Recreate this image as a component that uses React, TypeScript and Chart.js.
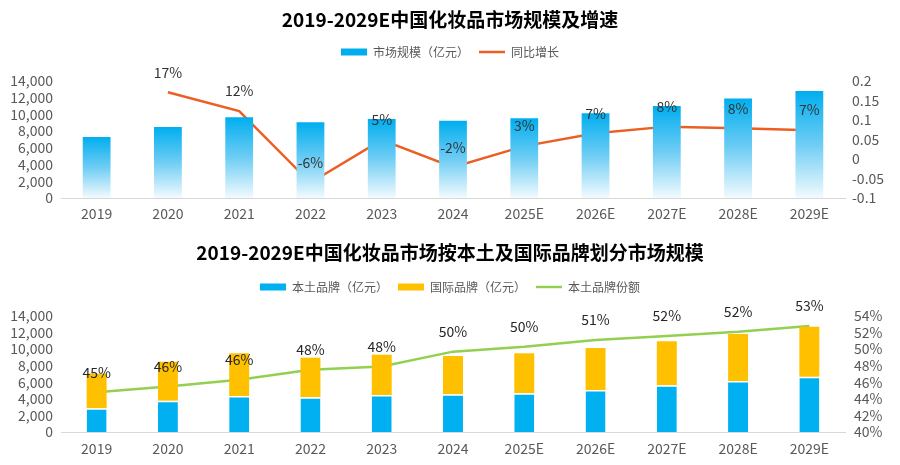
import React, { useEffect, useRef } from 'react';
import { Chart, registerables } from 'chart.js';

Chart.register(...registerables);

// ---------- data ----------
const categories = ['2019', '2020', '2021', '2022', '2023', '2024', '2025E', '2026E', '2027E', '2028E', '2029E'];

// chart 1
const marketSize = [7300, 8500, 9650, 9050, 9450, 9250, 9550, 10150, 11000, 11900, 12800];
const growthRate = [null, 0.171, 0.123, -0.061, 0.049, -0.021, 0.033, 0.066, 0.083, 0.079, 0.074];
const growthLabels = ['', '17%', '12%', '-6%', '5%', '-2%', '3%', '7%', '8%', '8%', '7%'];
const sizeTicks = [0, 2000, 4000, 6000, 8000, 10000, 12000, 14000];
const rateTicks = [-0.1, -0.05, 0, 0.05, 0.1, 0.15, 0.2];

// chart 2
const domesticBrands = [2860, 3780, 4350, 4190, 4470, 4550, 4670, 5070, 5640, 6150, 6680];
const internationalBrands = [4190, 4700, 5150, 4780, 4860, 4620, 4830, 5070, 5300, 5680, 6030];
const domesticShare = [44.8, 45.5, 46.3, 47.5, 47.9, 49.7, 50.3, 51.1, 51.6, 52.1, 52.8];
const shareLabels = ['45%', '46%', '46%', '48%', '48%', '50%', '50%', '51%', '52%', '52%', '53%'];
const shareTicks = [40, 42, 44, 46, 48, 50, 52, 54];

const FONT = '"Noto Sans CJK SC", "Noto Sans", sans-serif';
const TICK_COLOR = '#595959';

// draws the value labels above the line points
const pointLabelPlugin = {
  id: 'pointLabels',
  afterDatasetsDraw(chart: any) {
    const ctx = chart.ctx;
    chart.data.datasets.forEach((ds: any, i: number) => {
      const labels: string[] | undefined = ds.pointLabels;
      if (!labels) return;
      const meta = chart.getDatasetMeta(i);
      ctx.save();
      ctx.font = `14px ${FONT}`;
      ctx.fillStyle = ds.pointLabelColor || '#333';
      ctx.textAlign = 'center';
      ctx.textBaseline = 'middle';
      meta.data.forEach((pt: any, j: number) => {
        if (!labels[j] || pt.skip) return;
        ctx.fillText(labels[j], pt.x, pt.y - 20);
      });
      ctx.restore();
    });
  },
};

function legendLabels(fontSize: number) {
  return {
    usePointStyle: true,
    pointStyleWidth: 26,
    boxHeight: 7,
    padding: 10,
    color: TICK_COLOR,
    font: { size: fontSize, family: FONT },
    sort: (a: any, b: any) => a.datasetIndex - b.datasetIndex,
    generateLabels: (chart: any) => {
      const items = (Chart.defaults.plugins.legend.labels as any).generateLabels(chart);
      items.forEach((it: any) => {
        const ds = chart.data.datasets[it.datasetIndex];
        if (ds.type === 'line') {
          it.pointStyle = 'line';
          it.lineWidth = 2.5;
        } else {
          it.pointStyle = 'rect';
          it.lineWidth = 0;
          it.fillStyle = ds.legendColor || it.fillStyle;
        }
      });
      return items;
    },
  };
}

function fixedAxis(size: number, horizontal: boolean) {
  return (scale: any) => {
    if (horizontal) scale.height = size;
    else scale.width = size;
  };
}

function barGradient(context: any) {
  const chart = context.chart;
  const yScale = chart.scales && chart.scales.y;
  const v = context.parsed ? context.parsed.y : null;
  if (!yScale || v == null || !chart.chartArea) return '#00AEEF';
  const top = yScale.getPixelForValue(v);
  const base = yScale.getPixelForValue(0);
  if (!isFinite(top) || !isFinite(base) || top === base) return '#00AEEF';
  const g = chart.ctx.createLinearGradient(0, top, 0, base);
  g.addColorStop(0, '#00AEEF');
  g.addColorStop(0.5, '#6FCDF4');
  g.addColorStop(1, '#F2FBFE');
  return g;
}

const tickFont = { size: 14, family: FONT };

function TopChart() {
  const ref = useRef<HTMLCanvasElement | null>(null);
  useEffect(() => {
    if (!ref.current) return;
    const chart = new Chart(ref.current, {
      type: 'bar',
      data: {
        labels: categories,
        datasets: [
          {
            type: 'bar',
            label: '市场规模（亿元）',
            data: marketSize,
            backgroundColor: barGradient,
            legendColor: '#00AEEF',
            borderWidth: 0,
            barPercentage: 0.39,
            categoryPercentage: 1,
            yAxisID: 'y',
          } as any,
          {
            type: 'line',
            label: '同比增长',
            data: growthRate,
            borderColor: '#EB5F23',
            backgroundColor: '#EB5F23',
            borderWidth: 2.5,
            pointRadius: 0,
            tension: 0,
            yAxisID: 'y1',
            pointLabels: growthLabels,
            pointLabelColor: '#333',
          } as any,
        ],
      },
      options: {
        animation: false,
        responsive: true,
        maintainAspectRatio: false,
        layout: { padding: { top: 0, left: 0, right: 0, bottom: 0 } },
        plugins: {
          title: {
            display: true,
            text: '2019-2029E中国化妆品市场规模及增速',
            color: '#000',
            font: { size: 19, weight: 'bold', family: FONT },
            padding: { top: 8.6, bottom: 4.6 },
          },
          legend: {
            display: true,
            position: 'top',
            labels: legendLabels(12) as any,
          },
          subtitle: {
            display: true,
            text: '',
            weight: 500,
            font: { size: 1, lineHeight: 1 },
            padding: { top: 6, bottom: 6 },
          } as any,
          tooltip: { enabled: false },
        },
        scales: {
          x: {
            grid: { display: false, drawTicks: false },
            border: { display: true, color: '#D9D9D9', width: 1 },
            ticks: { color: TICK_COLOR, font: tickFont, padding: 7, autoSkip: false, maxRotation: 0 },
            afterFit: fixedAxis(32, true),
          },
          y: {
            position: 'left',
            min: 0,
            max: 14000,
            grid: { display: false, drawTicks: false },
            border: { display: false },
            afterBuildTicks: (scale: any) => {
              scale.ticks = sizeTicks.map((v) => ({ value: v }));
            },
            ticks: {
              color: TICK_COLOR,
              font: tickFont,
              padding: 8,
              autoSkip: false,
              callback: (v: any) => Number(v).toLocaleString('en-US'),
            },
            afterFit: fixedAxis(61, false),
          },
          y1: {
            position: 'right',
            min: -0.1,
            max: 0.2,
            grid: { display: false, drawTicks: false },
            border: { display: false },
            afterBuildTicks: (scale: any) => {
              scale.ticks = rateTicks.map((v) => ({ value: v }));
            },
            ticks: {
              color: TICK_COLOR,
              font: tickFont,
              padding: 7,
              autoSkip: false,
              callback: (v: any) => String(Number(Number(v).toFixed(2))),
            },
            afterFit: fixedAxis(55, false),
          },
        },
      } as any,
      plugins: [pointLabelPlugin],
    });
    return () => chart.destroy();
  }, []);
  return (
    <div style={{ position: 'relative', width: 900, height: 230 }}>
      <canvas ref={ref} />
    </div>
  );
}

function BottomChart() {
  const ref = useRef<HTMLCanvasElement | null>(null);
  useEffect(() => {
    if (!ref.current) return;
    const chart = new Chart(ref.current, {
      type: 'bar',
      data: {
        labels: categories,
        datasets: [
          {
            type: 'bar',
            label: '本土品牌（亿元）',
            data: domesticBrands,
            backgroundColor: '#00B0F0',
            borderColor: '#FFFFFF',
            borderWidth: { top: 1.5, left: 0, right: 0, bottom: 0 },
            borderSkipped: 'bottom',
            barPercentage: 0.28,
            categoryPercentage: 1,
            yAxisID: 'y',
            stack: 'brands',
          } as any,
          {
            type: 'bar',
            label: '国际品牌（亿元）',
            data: internationalBrands,
            backgroundColor: '#FFC000',
            borderWidth: 0,
            barPercentage: 0.28,
            categoryPercentage: 1,
            yAxisID: 'y',
            stack: 'brands',
          } as any,
          {
            type: 'line',
            label: '本土品牌份额',
            data: domesticShare,
            borderColor: '#92D050',
            backgroundColor: '#92D050',
            borderWidth: 2.5,
            pointRadius: 0,
            tension: 0,
            yAxisID: 'y1',
            pointLabels: shareLabels,
            pointLabelColor: '#262626',
          } as any,
        ],
      },
      options: {
        animation: false,
        responsive: true,
        maintainAspectRatio: false,
        layout: { padding: { top: 0, left: 0, right: 0, bottom: 0 } },
        plugins: {
          title: {
            display: true,
            text: '2019-2029E中国化妆品市场按本土及国际品牌划分市场规模',
            color: '#000',
            font: { size: 19, weight: 'bold', family: FONT },
            padding: { top: 11.6, bottom: 6.6 },
          },
          legend: {
            display: true,
            position: 'top',
            labels: legendLabels(12) as any,
          },
          subtitle: {
            display: true,
            text: '',
            weight: 500,
            font: { size: 1, lineHeight: 1 },
            padding: { top: 6, bottom: 6 },
          } as any,
          tooltip: { enabled: false },
        },
        scales: {
          x: {
            stacked: true,
            grid: { display: false, drawTicks: false },
            border: { display: true, color: '#D9D9D9', width: 1 },
            ticks: { color: TICK_COLOR, font: tickFont, padding: 8, autoSkip: false, maxRotation: 0 },
            afterFit: fixedAxis(33, true),
          },
          y: {
            position: 'left',
            stacked: true,
            min: 0,
            max: 14000,
            grid: { display: false, drawTicks: false },
            border: { display: false },
            afterBuildTicks: (scale: any) => {
              scale.ticks = sizeTicks.map((v) => ({ value: v }));
            },
            ticks: {
              color: TICK_COLOR,
              font: tickFont,
              padding: 8,
              autoSkip: false,
              callback: (v: any) => Number(v).toLocaleString('en-US'),
            },
            afterFit: fixedAxis(61, false),
          },
          y1: {
            position: 'right',
            min: 40,
            max: 54,
            grid: { display: false, drawTicks: false },
            border: { display: false },
            afterBuildTicks: (scale: any) => {
              scale.ticks = shareTicks.map((v) => ({ value: v }));
            },
            ticks: {
              color: TICK_COLOR,
              font: tickFont,
              padding: 9,
              autoSkip: false,
              callback: (v: any) => `${v}%`,
            },
            afterFit: fixedAxis(55, false),
          },
        },
      } as any,
      plugins: [pointLabelPlugin],
    });
    return () => chart.destroy();
  }, []);
  return (
    <div style={{ position: 'relative', width: 900, height: 235 }}>
      <canvas ref={ref} />
    </div>
  );
}

export default function App() {
  return (
    <div
      style={{
        position: 'absolute',
        top: 0,
        left: 0,
        width: 900,
        height: 465,
        background: '#FFFFFF',
        fontFamily: FONT,
      }}
    >
      <TopChart />
      <BottomChart />
    </div>
  );
}
